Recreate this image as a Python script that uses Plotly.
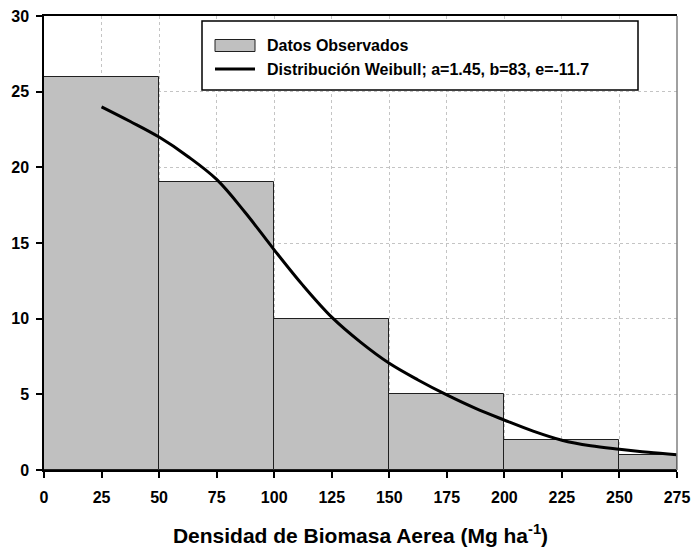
import plotly.graph_objects as go

# Data
bin_left = [0, 50, 100, 150, 200, 250]
bin_right = [50, 100, 150, 200, 250, 275]
counts = [26, 19, 10, 5, 2, 1]

curve_x = [25, 37.5, 50, 62.5, 75, 87.5, 100, 112.5, 125, 137.5, 150,
           162.5, 175, 187.5, 200, 212.5, 225, 237.5, 250, 262.5, 275]
curve_y = [24.0, 23.03, 22.0, 20.72, 19.2, 17.0, 14.55, 12.2, 10.1, 8.45, 7.05,
           5.95, 4.96, 4.07, 3.3, 2.57, 1.97, 1.6, 1.37, 1.17, 1.0]

x_ticks = list(range(0, 276, 25))
y_ticks = list(range(0, 31, 5))

bar_name = "Datos Observados"
curve_name = "Distribución Weibull; a=1.45, b=83, e=-11.7"

centers = [(a + b) / 2 for a, b in zip(bin_left, bin_right)]
widths = [b - a for a, b in zip(bin_left, bin_right)]

FONT = "Liberation Sans"
W, H = 693, 551
ML, MR, MT, MB = 44, 16, 16, 81
PW, PH = W - ML - MR, H - MT - MB


def px(xp):  # page pixel -> paper x
    return (xp - ML) / PW


def py(yp):  # page pixel -> paper y
    return (H - MB - yp) / PH


fig = go.Figure()
fig.add_trace(go.Bar(
    x=centers, y=counts, width=widths,
    marker=dict(color="#c0c0c0", line=dict(color="#202020", width=1)),
    name=bar_name, showlegend=False,
))
fig.add_trace(go.Scatter(
    x=curve_x, y=curve_y, mode="lines",
    line=dict(color="black", width=3, shape="spline", smoothing=1.0),
    name=curve_name, showlegend=False,
))

fig.update_layout(
    width=W, height=H,
    margin=dict(l=ML, r=MR, t=MT, b=MB, autoexpand=False),
    paper_bgcolor="white", plot_bgcolor="white",
    font=dict(family=FONT, color="black", size=16),
    showlegend=False,
    bargap=0,
)
fig.update_xaxes(
    range=[0, 275], tickvals=x_ticks, ticktext=[str(v) for v in x_ticks],
    showgrid=True, gridcolor="#c4c4c4", griddash="dot", gridwidth=1,
    showline=True, linecolor="black", linewidth=1.5, mirror=True,
    ticks="outside", ticklen=6, tickcolor="black", tickwidth=1.5,
    tickfont=dict(family=FONT, size=16, weight="bold"),
    ticklabelstandoff=6,
    title=dict(text="Densidad de Biomasa Aerea (Mg ha<sup>-1</sup>)",
               font=dict(family=FONT, size=21, weight="bold"), standoff=23),
    zeroline=False, automargin=False,
)
fig.update_yaxes(
    range=[0, 30], tickvals=y_ticks,
    showgrid=True, gridcolor="#c4c4c4", griddash="dot", gridwidth=1,
    showline=True, linecolor="black", linewidth=1.5,
    ticks="outside", ticklen=6, tickcolor="black", tickwidth=1.5,
    tickfont=dict(family=FONT, size=16, weight="bold"),
    ticklabelstandoff=4,
    zeroline=False, automargin=False,
)
# right border in gray
fig.add_shape(type="line", xref="paper", yref="paper", x0=1, x1=1, y0=0, y1=1,
              line=dict(color="#808080", width=1.5))

# manual legend
fig.add_shape(type="rect", xref="paper", yref="paper",
              x0=px(202), x1=px(638), y0=py(90), y1=py(21),
              line=dict(color="black", width=1.5), fillcolor="white", layer="above")
fig.add_shape(type="rect", xref="paper", yref="paper",
              x0=px(215), x1=px(255), y0=py(51.5), y1=py(39.5),
              line=dict(color="#202020", width=1), fillcolor="#c0c0c0", layer="above")
fig.add_shape(type="line", xref="paper", yref="paper",
              x0=px(215), x1=px(255), y0=py(69), y1=py(69),
              line=dict(color="black", width=3), layer="above")
fig.add_annotation(xref="paper", yref="paper", x=px(265), y=py(45.5),
                   xanchor="left", yanchor="middle", showarrow=False,
                   text=bar_name, font=dict(family=FONT, size=16, weight="bold"))
fig.add_annotation(xref="paper", yref="paper", x=px(265), y=py(69),
                   xanchor="left", yanchor="middle", showarrow=False,
                   text=curve_name, font=dict(family=FONT, size=16, weight="bold"))

fig.write_html(
    "out.html",
    config={"displayModeBar": False},
    post_script="document.body.style.margin='0';document.body.style.overflow='hidden';",
)
